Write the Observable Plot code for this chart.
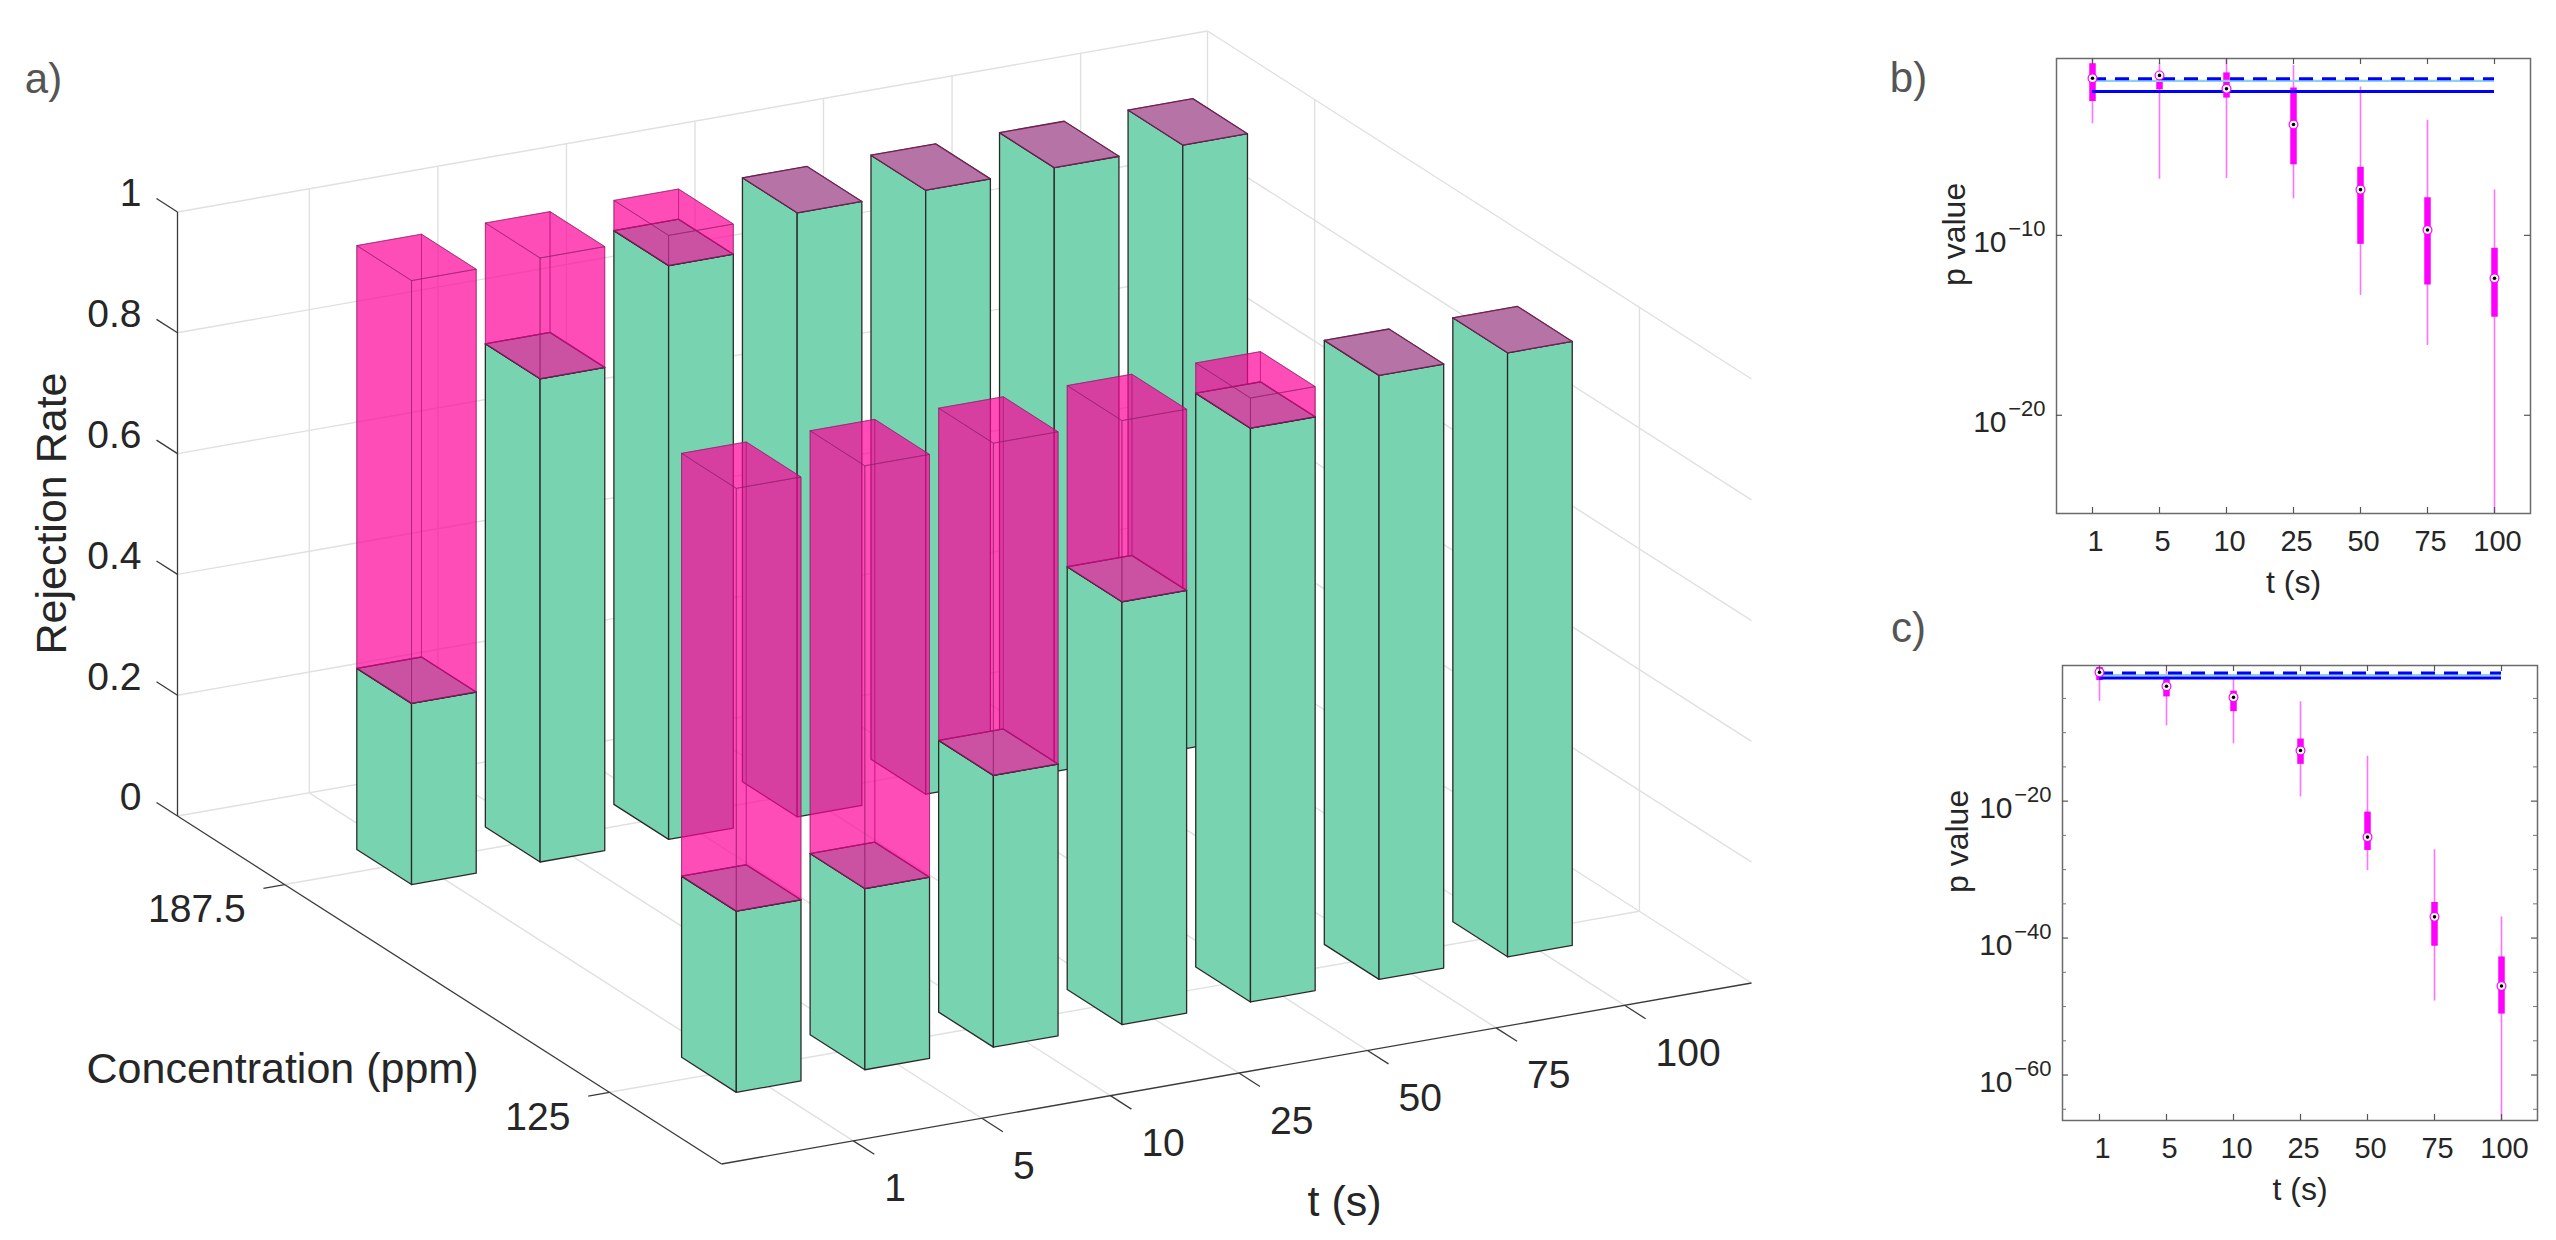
<!DOCTYPE html>
<html>
<head>
<meta charset="utf-8">
<script src="https://cdn.jsdelivr.net/npm/d3@7"></script>
<script src="https://cdn.jsdelivr.net/npm/@observablehq/plot@0.6"></script>
<style>
html, body { margin: 0; padding: 0; background: #fff; }
#root { position: relative; width: 2556px; height: 1240px; overflow: hidden; background: #fff; }
.panel { position: absolute; }
.panel svg { overflow: visible; display: block; }
</style>
</head>
<body>
<div id="root">
  <div id="pa" class="panel" style="left:0px;top:0px;width:1860px;height:1240px"></div>
  <div id="pb" class="panel" style="left:1860px;top:0px;width:696px;height:600px"></div>
  <div id="pc" class="panel" style="left:1860px;top:600px;width:696px;height:640px"></div>
</div>
<script>
// ---------------- DATA ----------------
const tLabels = ["1", "5", "10", "25", "50", "75", "100"];
const concLabels = ["187.5", "125"];            // back row, front row
const zTicks = [0, 0.2, 0.4, 0.6, 0.8, 1];
const rateGreen1875   = [0.30, 0.80, 0.95, 1.00, 1.00, 1.00, 1.00];
const rateGreen125    = [0.30, 0.30, 0.45, 0.70, 0.95, 1.00, 1.00];
const rateMagenta1875 = [1.00, 1.00, 1.00, 1.00, 1.00, 1.00, 1.00];
const rateMagenta125  = [1.00, 1.00, 1.00, 1.00, 1.00, 1.00, 1.00];

// panel b : p values as base-10 exponents
const bMedianExp = [-1.27, -1.11, -1.85, -3.84, -7.46, -9.70, -12.39];
const bQ3Exp     = [-0.46, -0.97, -0.97, -1.81, -6.22, -7.91, -10.72];
const bQ1Exp     = [-2.56, -1.91, -2.37, -6.08, -10.50, -12.76, -14.55];
const bHighExp   = [-0.05, -0.42, -0.05, -0.56, -1.75, -3.60, -7.48];
const bLowExp    = [-3.80, -6.88, -6.84, -7.97, -13.34, -16.12, -26.00];
const bMajorExp  = [-10, -20];
const bMinorExp  = [];
const bDomainExp = [-25.46, -0.17];

// panel c
const cMedianExp = [-1.19, -3.22, -4.84, -12.60, -25.25, -36.90, -46.99];
const cQ3Exp     = [-0.48, -2.27, -3.94, -10.93, -21.60, -34.80, -42.75];
const cQ1Exp     = [-2.39, -4.78, -6.93, -14.63, -27.20, -41.19, -51.10];
const cHighExp   = [-0.05, -1.07, -1.97, -5.49, -13.43, -27.10, -36.90];
const cLowExp    = [-5.43, -9.00, -11.64, -19.40, -30.15, -49.20, -67.00];
const cMajorExp  = [-20, -40, -60];
const cMinorExp  = [-5, -10, -15, -25, -30, -35, -45, -50, -55, -65];
const cDomainExp = [-66.64, -0.19];

const pThresholdDashed = [0.05];
const pThresholdSolid = [0.01];

// ---------------- STYLE ----------------
const FONT = '"Liberation Sans", Arial, Helvetica, sans-serif';
const INK = "#262626";
const GREEN = "#78d4b0";
const MAG = "#ff0099";

// ---------------- PANEL A (3D bars, orthographic projection) ----------------
function panelA() {
  const O = {x: 177, y: 815.5}, VT = {x: 1030, y: -181}, VC = {x: 544, y: 348}, ZS = 604;
  const P = (ft, fc, z) => ({x: O.x + ft * VT.x + fc * VC.x, y: O.y + ft * VT.y + fc * VC.y - z * ZS});
  const tFrac = i => 0.128 + 0.1248 * i;
  const cFrac = j => 0.197 + 0.597 * j;
  const HT = 0.0314, HC = 0.0503;
  const seg = (a, b) => ({x1: a.x, y1: a.y, x2: b.x, y2: b.y});

  function boxFaces(i, j, z0, z1, names) {
    const ft = tFrac(i), fc = cFrac(j);
    const t0 = ft - HT, t1 = ft + HT, c0 = fc - HC, c1 = fc + HC;
    const defs = {
      tmax: [[t1, c0, z0], [t1, c1, z0], [t1, c1, z1], [t1, c0, z1]],
      cmin: [[t0, c0, z0], [t1, c0, z0], [t1, c0, z1], [t0, c0, z1]],
      tmin: [[t0, c0, z0], [t0, c1, z0], [t0, c1, z1], [t0, c0, z1]],
      cmax: [[t0, c1, z0], [t1, c1, z0], [t1, c1, z1], [t0, c1, z1]],
      top:  [[t0, c0, z1], [t0, c1, z1], [t1, c1, z1], [t1, c0, z1]]
    };
    const out = [];
    for (const n of names) {
      const pts = defs[n].map(([a, b, c]) => P(a, b, c));
      pts.push(pts[0]);
      for (const p of pts) out.push({x: p.x, y: p.y, f: `${i}-${j}-${n}`});
    }
    return out;
  }

  const grid = [];
  for (const z of zTicks) { grid.push(seg(P(0, 0, z), P(1, 0, z))); grid.push(seg(P(1, 0, z), P(1, 1, z))); }
  tLabels.forEach((_, i) => { const f = tFrac(i); grid.push(seg(P(f, 0, 0), P(f, 0, 1))); grid.push(seg(P(f, 0, 0), P(f, 1, 0))); });
  concLabels.forEach((_, j) => { const f = cFrac(j); grid.push(seg(P(1, f, 0), P(1, f, 1))); grid.push(seg(P(0, f, 0), P(1, f, 0))); });
  grid.push(seg(P(1, 0, 0), P(1, 0, 1)));

  const axes = [seg(P(0, 0, 0), P(0, 0, 1)), seg(P(0, 0, 0), P(0, 1, 0)), seg(P(0, 1, 0), P(1, 1, 0))];
  const ticks = [];
  for (const z of zTicks) ticks.push(seg(P(0, 0, z), P(0, -0.0386, z)));
  concLabels.forEach((_, j) => ticks.push(seg(P(0, cFrac(j), 0), P(-0.0206, cFrac(j), 0))));
  tLabels.forEach((_, i) => ticks.push(seg(P(tFrac(i), 1, 0), P(tFrac(i), 1.0386, 0))));

  const marks = [
    Plot.link(grid, {x1: "x1", y1: "y1", x2: "x2", y2: "y2", stroke: "#e0e0e0", strokeWidth: 1.4}),
    Plot.link(axes, {x1: "x1", y1: "y1", x2: "x2", y2: "y2", stroke: "#3a3a3a", strokeWidth: 1.3}),
    Plot.link(ticks, {x1: "x1", y1: "y1", x2: "x2", y2: "y2", stroke: "#3a3a3a", strokeWidth: 1.3})
  ];

  const greens = [rateGreen1875, rateGreen125];
  const mags = [rateMagenta1875, rateMagenta125];
  const magStyle = {x: "x", y: "y", z: "f", fill: MAG, fillOpacity: 0.45, stroke: "#8a1f66", strokeOpacity: 0.55, strokeWidth: 1, strokeLinejoin: "round"};
  for (let j = 0; j < 2; j++) {
    for (let i = tLabels.length - 1; i >= 0; i--) {
      const g = greens[j][i], m = mags[j][i];
      marks.push(Plot.line(boxFaces(i, j, 0, g, ["tmin", "cmax", "top"]),
        {x: "x", y: "y", z: "f", fill: GREEN, stroke: "#2a2a2a", strokeWidth: 1.3, strokeLinejoin: "round"}));
      if (m - g > 0.004) {
        // magenta tint coplanar with the green top (seen through the translucent bar)
        marks.push(Plot.line(boxFaces(i, j, g, g, ["top"]),
          {x: "x", y: "y", z: "f", fill: MAG, fillOpacity: 0.3, stroke: "#2a2a2a", strokeOpacity: 0.8, strokeWidth: 1.2}));
        marks.push(Plot.line(boxFaces(i, j, g, m, ["tmax", "cmin", "tmin", "cmax", "top"]), magStyle));
      } else {
        marks.push(Plot.line(boxFaces(i, j, m, m, ["top"]), magStyle));
      }
    }
  }

  // tick labels
  marks.push(Plot.text(zTicks, {x: d => P(0, 0, d).x - 36, y: d => P(0, 0, d).y - 18, text: d => String(d),
    textAnchor: "end", lineAnchor: "middle", fontSize: 39, fill: INK}));
  marks.push(Plot.text(concLabels, {x: (d, j) => P(0, cFrac(j), 0).x - 39, y: (d, j) => P(0, cFrac(j), 0).y + 25,
    text: d => d, textAnchor: "end", lineAnchor: "middle", fontSize: 39, fill: INK}));
  marks.push(Plot.text(tLabels, {x: (d, i) => P(tFrac(i), 1, 0).x + 31, y: (d, i) => P(tFrac(i), 1, 0).y + 48,
    text: d => d, textAnchor: "start", lineAnchor: "middle", fontSize: 39, fill: INK}));
  // axis labels
  marks.push(Plot.text(["t (s)"], {x: () => 1344, y: () => 1202, text: d => d, fontSize: 43, fill: INK, lineAnchor: "middle"}));
  marks.push(Plot.text(["Concentration (ppm)"], {x: () => 86, y: () => 1069, text: d => d, textAnchor: "start", fontSize: 43, fill: INK, lineAnchor: "middle"}));
  marks.push(Plot.text(["Rejection Rate"], {x: () => 52, y: () => 513, text: d => d, rotate: -90, fontSize: 43, fill: INK, lineAnchor: "middle"}));
  marks.push(Plot.text(["a)"], {x: () => 43, y: () => 79, text: d => d, fontSize: 42, fill: "#555", lineAnchor: "middle"}));

  return Plot.plot({
    width: 1860, height: 1240, margin: 0,
    x: {type: "identity", axis: null},
    y: {type: "identity", axis: null},
    style: {fontFamily: FONT, background: "white", overflow: "visible"},
    marks
  });
}

// ---------------- PANELS B & C (box plots, log y) ----------------
function boxPanel(o) {
  const rows = tLabels.map((t, i) => ({
    t, med: 10 ** o.med[i], q1: 10 ** o.q1[i], q3: 10 ** o.q3[i], lo: 10 ** o.lo[i], hi: 10 ** o.hi[i]
  }));
  const fw = o.width - o.mL - o.mR, fh = o.height - o.mT - o.mB;
  const first = tLabels[0], last = tLabels[tLabels.length - 1];
  return Plot.plot({
    width: o.width, height: o.height,
    marginLeft: o.mL, marginRight: o.mR, marginTop: o.mT, marginBottom: o.mB,
    x: {type: "point", domain: tLabels, padding: 0.5, axis: null},
    y: {type: "log", domain: [10 ** o.dom[0], 10 ** o.dom[1]], axis: null},
    style: {fontFamily: FONT, background: "white", overflow: "visible"},
    marks: [
      Plot.ruleX(rows, {x: "t", y1: "lo", y2: "hi", stroke: "#ff00ff", strokeOpacity: 0.55, strokeWidth: 1.6, clip: true}),
      Plot.ruleX(rows, {x: "t", y1: "q1", y2: "q3", stroke: "#ff00ff", strokeWidth: 6.5, clip: true}),
      Plot.ruleY(pThresholdDashed, {y: d => d, x1: () => first, x2: () => last, stroke: "#8fd0f0", strokeWidth: 2.2, dy: 2}),
      Plot.ruleY(pThresholdDashed, {y: d => d, x1: () => first, x2: () => last, stroke: "#0000ff", strokeWidth: 3, strokeDasharray: "14,9"}),
      Plot.ruleY(pThresholdSolid, {y: d => d, x1: () => first, x2: () => last, stroke: "#0000ff", strokeWidth: 3}),
      Plot.dot(rows, {x: "t", y: "med", r: 4.4, fill: "white", stroke: "#ff00ff", strokeWidth: 1.2}),
      Plot.dot(rows, {x: "t", y: "med", r: 1.8, fill: "black"}),
      Plot.frame({stroke: "#6b6b6b", strokeWidth: 1.5}),
      // ticks (inward)
      Plot.tickY(o.major.map(e => 10 ** e), {y: d => d, insetRight: fw - 6, stroke: "#555", strokeWidth: 1.2}),
      Plot.tickY(o.major.map(e => 10 ** e), {y: d => d, insetLeft: fw - 6, stroke: "#555", strokeWidth: 1.2}),
      Plot.tickY(o.minor.map(e => 10 ** e), {y: d => d, insetRight: fw - 4, stroke: "#777", strokeWidth: 1}),
      Plot.tickY(o.minor.map(e => 10 ** e), {y: d => d, insetLeft: fw - 4, stroke: "#777", strokeWidth: 1}),
      Plot.tickX(tLabels, {x: d => d, insetTop: fh - 6, stroke: "#555", strokeWidth: 1.2}),
      Plot.tickX(tLabels, {x: d => d, insetBottom: fh - 6, stroke: "#555", strokeWidth: 1.2}),
      // tick labels
      Plot.text(o.major, {y: d => 10 ** d, frameAnchor: "left", text: () => "10", textAnchor: "end", lineAnchor: "middle",
        dx: -50, dy: 7, fontSize: 30, fill: INK}),
      Plot.text(o.major, {y: d => 10 ** d, frameAnchor: "left", text: d => "\u2212" + String(Math.abs(d)), textAnchor: "end", lineAnchor: "middle",
        dx: -11, dy: -6, fontSize: 22, fill: INK}),
      Plot.text(tLabels, {x: d => d, frameAnchor: "bottom", text: d => d, lineAnchor: "middle", dy: 28, dx: 3, fontSize: 29, fill: INK}),
      // axis labels
      Plot.text(["t (s)"], {frameAnchor: "bottom", text: d => d, lineAnchor: "middle", dy: 69, fontSize: 32, fill: INK}),
      Plot.text(["p value"], {frameAnchor: "left", text: d => d, rotate: -90, lineAnchor: "middle", dx: o.pdx, fontSize: 32, fill: INK}),
      Plot.text([o.letter], {frameAnchor: "top-left", text: d => d, lineAnchor: "middle", textAnchor: "middle",
        dx: o.ldx, dy: o.ldy, fontSize: 42, fill: "#555"})
    ]
  });
}

document.getElementById("pa").appendChild(panelA());
document.getElementById("pb").appendChild(boxPanel({
  width: 696, height: 600, mL: 196, mR: 26, mT: 58, mB: 87,
  med: bMedianExp, q1: bQ1Exp, q3: bQ3Exp, lo: bLowExp, hi: bHighExp,
  major: bMajorExp, minor: bMinorExp, dom: bDomainExp, letter: "b)", ldx: -148, ldy: 20, pdx: -102
}));
document.getElementById("pc").appendChild(boxPanel({
  width: 696, height: 640, mL: 202, mR: 19, mT: 65, mB: 120,
  med: cMedianExp, q1: cQ1Exp, q3: cQ3Exp, lo: cLowExp, hi: cHighExp,
  major: cMajorExp, minor: cMinorExp, dom: cDomainExp, letter: "c)", ldx: -154, ldy: -37, pdx: -105
}));
</script>
</body>
</html>
